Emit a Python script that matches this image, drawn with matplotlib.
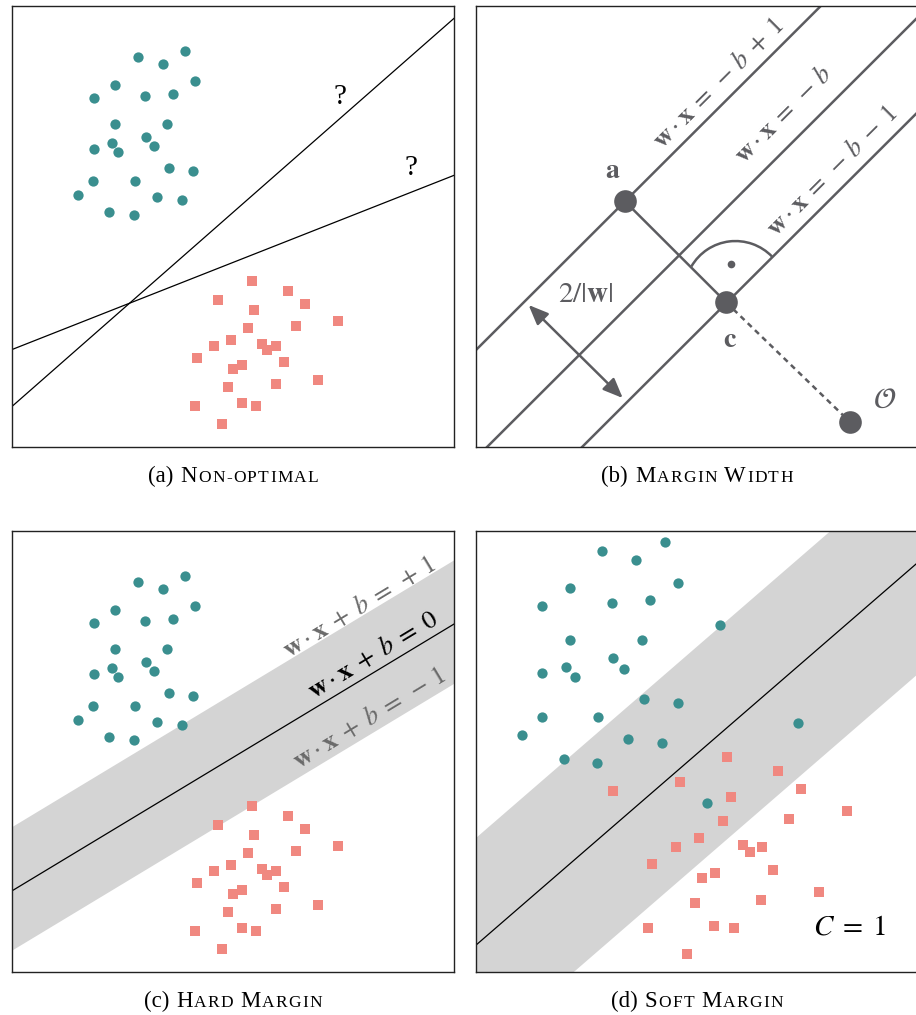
import numpy as np
import matplotlib
matplotlib.use("Agg")
import matplotlib.pyplot as plt
from matplotlib.patches import Arc

# ── Colors ───────────────────────────────────────────────────────────────────
TEAL = "#3a8f8f"
SALMON = "#f08880"
GRAY = "#5c5c60"
LABEL_GRAY = "#6a6a6a"
BAND = "#d4d4d4"

# ── Data (all panels use a 0..100 coordinate box) ───────────────────────────
# separable data, panels (a) and (c)
sep_pos_x = [28.6, 34.2, 39.1, 41.3, 23.2, 18.6, 30.2, 36.5, 23.2, 35.1, 30.4, 22.6,
             18.5, 24.0, 32.1, 35.5, 41.0, 18.3, 27.8, 15.0, 32.8, 38.4, 22.0, 27.5]
sep_pos_y = [88.4, 86.8, 89.8, 83.0, 82.0, 79.1, 79.5, 80.0, 73.3, 73.3, 70.4, 68.9,
             67.6, 66.8, 68.2, 63.3, 62.5, 60.3, 60.3, 57.2, 56.6, 55.9, 53.2, 52.5]
sep_neg_x = [54.2, 62.4, 46.6, 66.2, 54.8, 73.7, 64.3, 53.5, 49.5, 45.8, 56.6, 59.8,
             57.7, 41.9, 61.5, 52.1, 50.1, 48.9, 59.7, 69.2, 41.3, 52.0, 55.1, 47.6]
sep_neg_y = [37.6, 35.3, 33.4, 32.5, 31.0, 28.6, 27.5, 27.0, 24.3, 22.8, 23.3, 22.8,
             21.9, 20.1, 19.2, 18.6, 17.7, 13.7, 14.3, 15.3, 9.4, 10.0, 9.4, 5.3]

# overlapping data, panel (d)
soft_pos_x = [28.5, 36.3, 42.7, 45.7, 21.3, 14.9, 30.8, 39.3, 55.3, 21.2, 37.5, 31.1, 20.4, 15.0,
              22.5, 33.5, 38.1, 45.6, 72.9, 14.9, 27.6, 10.3, 34.5, 42.0, 19.8, 27.3, 52.3]
soft_pos_y = [95.5, 93.4, 97.4, 88.3, 87.0, 83.0, 83.6, 84.3, 78.7, 75.3, 75.3, 71.2, 69.1, 67.8,
              66.8, 68.6, 61.9, 60.9, 56.5, 57.9, 57.9, 53.7, 52.9, 51.9, 48.4, 47.3, 38.3]
soft_neg_x = [56.8, 68.3, 46.2, 31.0, 57.6, 73.5, 83.9, 55.9, 70.9, 50.5, 45.2, 60.3, 61.9,
              64.6, 39.9, 54.1, 51.2, 67.2, 49.5, 64.5, 77.6, 38.9, 53.8, 58.3, 47.7]
soft_neg_y = [48.8, 45.6, 43.0, 41.1, 39.7, 41.6, 36.4, 34.2, 34.8, 30.4, 28.3, 28.9, 27.1,
              28.3, 24.5, 22.4, 21.3, 23.2, 15.7, 16.4, 18.1, 9.9, 10.5, 9.9, 4.0]

# (a) two candidate separators: y at x=0 and x=100
cand_lines = [(9.2, 97.2), (22.1, 61.6)]
cand_marks = [(74.2, 79.4), (90.2, 63.2)]

# (b) margin geometry (lines y = x + offset)
margin_offsets = [22.0, -2.5, -24.0]
margin_labels = [r"$\mathbf{w}\cdot\mathbf{x}\;=\;-\,b\;+\;1$",
                 r"$\mathbf{w}\cdot\mathbf{x}\;=\;-\,b$",
                 r"$\mathbf{w}\cdot\mathbf{x}\;=\;-\,b\;-\;1$"]
margin_label_pos = [(54.9, 82.5), (69.4, 75.5), (80.5, 62.7)]
pt_a = (33.6, 55.8)
pt_c = (56.6, 32.8)
pt_o = (84.7, 5.6)
arrow_ends = [(11.9, 32.2), (33.2, 11.1)]

# (c) hard margin: slope, intercepts of upper, boundary, lower
hard_slope = 0.605
hard_icpt = [33.0, 18.4, 5.0]
hard_labels = [r"$\mathbf{w}\cdot\mathbf{x}\;+\;b\;=\;+\,1$",
               r"$\mathbf{w}\cdot\mathbf{x}\;+\;b\;=\;0$",
               r"$\mathbf{w}\cdot\mathbf{x}\;+\;b\;=\;-\,1$"]
hard_label_pos = [(78.5, 82.8), (81.7, 71.8), (80.8, 57.5)]

# (d) soft margin
soft_slope = 0.868
soft_icpt = [30.6, 6.1, -19.0]

captions = [("(a)", "Non-optimal"), ("(b)", "Margin Width"),
            ("(c)", "Hard Margin"), ("(d)", "Soft Margin")]

# ── Style ────────────────────────────────────────────────────────────────────
plt.rcParams.update({
    "font.family": ["DejaVu Serif"],
    "mathtext.fontset": "stix",
})

W_PX, H_PX = 916, 1015
PANEL_W, PANEL_H = 442, 441
fig = plt.figure(figsize=(W_PX / 100, H_PX / 100), dpi=100)


def panel(left, top):
    ax = fig.add_axes([left / W_PX, 1 - (top + PANEL_H) / H_PX, PANEL_W / W_PX, PANEL_H / H_PX])
    ax.set_xlim(0, 100)
    ax.set_ylim(0, 100)
    ax.set_xticks([])
    ax.set_yticks([])
    for s in ax.spines.values():
        s.set_linewidth(1.0)
        s.set_color("#222222")
    return ax


def angle_of(slope):
    return np.degrees(np.arctan(slope * PANEL_H / PANEL_W))


def draw_points(ax, px, py, nx, ny):
    ax.plot(px, py, "o", ms=7.4, color=TEAL, mew=0, zorder=4)
    ax.plot(nx, ny, "s", ms=7.2, color=SALMON, mew=0, zorder=4)


def small_caps(xc, base, label, title, big=13, small=10, track=0.8):
    """Fake small caps: one text per character, laid out by measured width."""
    r = fig.canvas.get_renderer()
    pieces = [(label, big, 0)]
    for word in title.split(" "):
        for k, ch in enumerate(word):
            sz = big if ch.isupper() else small
            pieces.append((ch.upper(), sz, 7 if k == 0 else track))
    x = 0
    arts = []
    for t, sz, gap in pieces:
        x += gap
        a = fig.text(0, 1 - base / H_PX, t, fontsize=sz, va="baseline", ha="left",
                     family="Liberation Serif")
        arts.append((a, x))
        x += a.get_window_extent(r).width
    x0 = xc - x / 2
    for a, xx in arts:
        a.set_x((x0 + xx) / W_PX)


ax_a = panel(12, 6)
ax_b = panel(476, 6)
ax_c = panel(12, 531)
ax_d = panel(476, 531)

xs = np.array([-10, 110])

# ── (a) Non-optimal ──────────────────────────────────────────────────────────
draw_points(ax_a, sep_pos_x, sep_pos_y, sep_neg_x, sep_neg_y)
for y0, y1 in cand_lines:
    ax_a.plot([0, 100], [y0, y1], color="black", lw=0.9, zorder=2)
for qx, qy in cand_marks:
    ax_a.text(qx, qy, "?", fontsize=21, ha="center", va="center", family="Liberation Serif")

# ── (b) Margin width ─────────────────────────────────────────────────────────
for off, lab, (lx, ly) in zip(margin_offsets, margin_labels, margin_label_pos):
    ax_b.plot(xs, xs + off, color=GRAY, lw=1.8, zorder=2)
    ax_b.text(lx, ly, lab, fontsize=19, color=GRAY, rotation=angle_of(1.0),
              ha="center", va="center", rotation_mode="anchor")
ax_b.plot([pt_a[0], pt_c[0]], [pt_a[1], pt_c[1]], color=GRAY, lw=1.8, zorder=2)
ax_b.plot([pt_c[0], pt_o[0]], [pt_c[1], pt_o[1]], color=GRAY, lw=1.8,
          dashes=(2.2, 1.8), zorder=2)
ax_b.add_patch(Arc((58.7, 35.2), 23, 23, theta1=44, theta2=150, color=GRAY, lw=1.8))
ax_b.plot([57.7], [41.5], "o", ms=5.5, color=GRAY, mew=0)
ax_b.plot([pt_a[0], pt_c[0], pt_o[0]], [pt_a[1], pt_c[1], pt_o[1]], "o",
          ms=16.3, color=GRAY, mew=0, zorder=5)
ax_b.annotate("", xy=arrow_ends[1], xytext=arrow_ends[0],
              arrowprops=dict(arrowstyle="<|-|>,head_length=0.6,head_width=0.25",
                              color=GRAY, lw=1.8, mutation_scale=20,
                              shrinkA=0, shrinkB=0))
ax_b.text(24.8, 34.7, r"$2/|\mathbf{w}|$", fontsize=21, color=GRAY, ha="center", va="center")
ax_b.text(31.0, 62.8, r"$\mathbf{a}$", fontsize=20, color=GRAY, ha="center", va="center")
ax_b.text(57.4, 24.3, r"$\mathbf{c}$", fontsize=20, color=GRAY, ha="center", va="center")
ax_b.text(92.4, 10.7, r"$\mathcal{O}$", fontsize=21, color=GRAY, ha="center", va="center")

# ── (c) Hard margin ──────────────────────────────────────────────────────────
ax_c.fill_between(xs, hard_icpt[2] + hard_slope * xs, hard_icpt[0] + hard_slope * xs,
                  color=BAND, lw=0, zorder=1)
ax_c.plot(xs, hard_icpt[1] + hard_slope * xs, color="black", lw=0.9, zorder=2)
for lab, (lx, ly), col in zip(hard_labels, hard_label_pos, [LABEL_GRAY, "black", LABEL_GRAY]):
    ax_c.text(lx, ly, lab, fontsize=19, color=col, rotation=angle_of(hard_slope),
              ha="center", va="center", rotation_mode="anchor", zorder=3)
draw_points(ax_c, sep_pos_x, sep_pos_y, sep_neg_x, sep_neg_y)

# ── (d) Soft margin ──────────────────────────────────────────────────────────
ax_d.fill_between(xs, soft_icpt[2] + soft_slope * xs, soft_icpt[0] + soft_slope * xs,
                  color=BAND, lw=0, zorder=1)
ax_d.plot(xs, soft_icpt[1] + soft_slope * xs, color="black", lw=0.9, zorder=2)
draw_points(ax_d, soft_pos_x, soft_pos_y, soft_neg_x, soft_neg_y)
ax_d.text(84.6, 8.6, r"$C\;=\;1$", fontsize=21, ha="center", va="baseline")

# ── Captions ─────────────────────────────────────────────────────────────────
fig.canvas.draw()
for (lab, title), (xc, base) in zip(captions, [(233, 482), (697, 482), (233, 1007), (697, 1007)]):
    small_caps(xc, base, lab, title, big=16.5, small=12.5, track=1.3)

fig.savefig("out.png", dpi=100, facecolor="white")
